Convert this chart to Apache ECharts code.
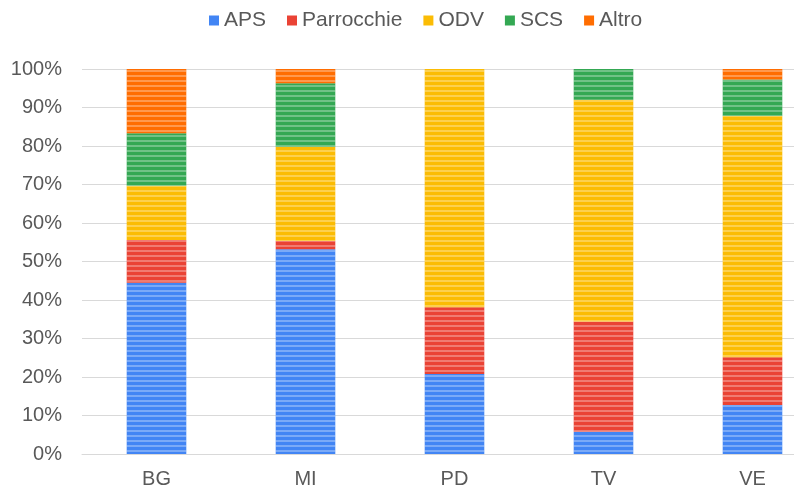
<!DOCTYPE html>
<html>
<head>
<meta charset="utf-8">
<script src="https://cdn.jsdelivr.net/npm/echarts@6/dist/echarts.min.js"></script>
<style>
    html, body { margin: 0; padding: 0; background: #fff; }
    #chart { width: 794px; height: 489px; }
</style>
</head>
<body>
<div id="chart"></div>
<script>
    // province codes on the x axis
    var categories = ['BG', 'MI', 'PD', 'TV', 'VE'];
    var yTicks = [0, 10, 20, 30, 40, 50, 60, 70, 80, 90, 100];

    // share of each type of organisation, in %
    var aps = [44.5, 53.2, 20.8, 5.8, 12.7];
    var parrocchie = [11.1, 2.1, 17.3, 28.6, 12.4];
    var odv = [14.1, 24.5, 61.9, 57.6, 62.7];
    var scs = [13.6, 16.5, 0, 8.0, 9.5];
    var altro = [16.7, 3.7, 0, 0, 2.7];

    var names = ['APS', 'Parrocchie', 'ODV', 'SCS', 'Altro'];
    var values = [aps, parrocchie, odv, scs, altro];
    var colors = ['#4285F4', '#EA4335', '#FBBC04', '#34A853', '#FF6D01'];

    var chart = echarts.init(document.getElementById('chart'));
    var textColor = '#595959';
    var font = 'Liberation Sans, Arial, sans-serif';

    chart.setOption({
        animation: false,
        color: colors,
        textStyle: { fontFamily: font },
        legend: {
            data: names,
            top: 5,
            left: 204,
            icon: 'rect',
            itemWidth: 10,
            itemHeight: 10,
            itemGap: 21,
            itemStyle: { decal: 'none' },
            textStyle: { color: textColor, fontSize: 21, fontFamily: font }
        },
        // the plot runs past the right edge of the picture (cropped screenshot)
        grid: {
            left: 82,
            right: -33,
            top: 69,
            bottom: 35,
            outerBoundsMode: 'none'
        },
        xAxis: {
            type: 'category',
            data: categories,
            axisTick: { show: false },
            axisLine: { lineStyle: { color: '#d9d9d9', width: 1 } },
            axisLabel: { color: textColor, fontSize: 20, margin: 15, fontFamily: font }
        },
        yAxis: {
            type: 'value',
            min: yTicks[0],
            max: yTicks[yTicks.length - 1],
            interval: yTicks[1] - yTicks[0],
            axisLine: { show: false },
            axisTick: { show: false },
            splitLine: { lineStyle: { color: '#d9d9d9', width: 1 } },
            axisLabel: { color: textColor, fontSize: 20, margin: 20, formatter: '{value}%', fontFamily: font }
        },
        series: names.map(function (n, i) {
            return {
                name: n,
                type: 'bar',
                stack: 'total',
                barWidth: '40%',
                itemStyle: {
                    // faint horizontal banding like the source image
                    decal: {
                        symbol: 'rect',
                        symbolSize: 1,
                        dashArrayX: [[1, 0]],
                        dashArrayY: [2, 3],
                        rotation: 0,
                        color: 'rgba(255, 255, 255, 0.3)'
                    }
                },
                data: values[i]
            };
        })
    });
</script>
</body>
</html>
